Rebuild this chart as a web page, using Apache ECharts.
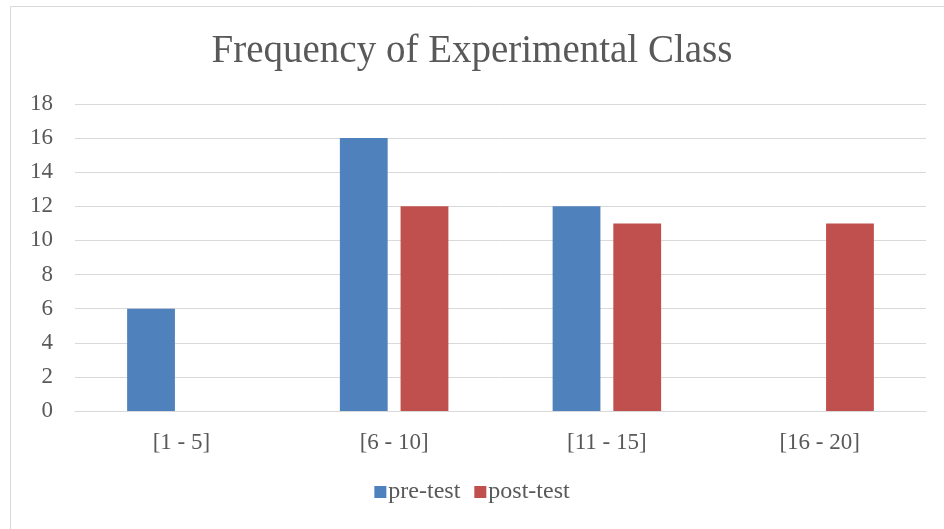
<!DOCTYPE html>
<html>
<head>
<meta charset="utf-8">
<script src="https://cdn.jsdelivr.net/npm/echarts@6/dist/echarts.min.js"></script>
<style>
  html, body { margin: 0; padding: 0; background: #fff; }
</style>
</head>
<body>
<div id="chart" style="width: 944px; height: 529px"></div>
<script>
const categories = ['[1 - 5]', '[6 - 10]', '[11 - 15]', '[16 - 20]'];
const preTest = [6, 16, 12, 0];
const postTest = [0, 12, 11, 11];

const myChart = echarts.init(document.getElementById('chart'));
const font = '"Liberation Serif", "DejaVu Serif", serif';

myChart.setOption({
  animation: false,
  title: {
    text: 'Frequency of Experimental Class',
    left: 'center',
    top: 27,
    textStyle: {color: '#595959', fontFamily: font, fontSize: 39, fontWeight: 'normal'}
  },
  graphic: [{
    type: 'rect',
    shape: {x: 10.5, y: 6.5, width: 1000, height: 1000},
    style: {fill: 'none', stroke: '#d9d9d9', lineWidth: 1},
    silent: true
  }],
  legend: {
    bottom: 20,
    left: 'center',
    itemWidth: 12,
    itemHeight: 12,
    itemGap: 14,
    icon: 'rect',
    textStyle: {color: '#595959', fontFamily: font, fontSize: 24, padding: [0, 0, 0, -3]},
    data: ['pre-test', 'post-test']
  },
  grid: {left: 75, right: 18, top: 104, bottom: 118},
  xAxis: {
    type: 'category',
    data: categories,
    axisLine: {lineStyle: {color: '#d9d9d9'}},
    axisTick: {show: false},
    axisLabel: {color: '#595959', fontFamily: font, fontSize: 23, margin: 20}
  },
  yAxis: {
    type: 'value',
    min: 0,
    max: 18,
    interval: 2,
    axisLine: {show: false},
    axisTick: {show: false},
    splitLine: {lineStyle: {color: '#d9d9d9'}},
    axisLabel: {color: '#595959', fontFamily: font, fontSize: 23, margin: 22}
  },
  series: [{
    name: 'pre-test',
    type: 'bar',
    data: preTest,
    barGap: '27%',
    barCategoryGap: '49%',
    itemStyle: {color: '#4f81bd'}
  }, {
    name: 'post-test',
    type: 'bar',
    data: postTest,
    itemStyle: {color: '#c0504d'}
  }]
});
</script>
</body>
</html>
